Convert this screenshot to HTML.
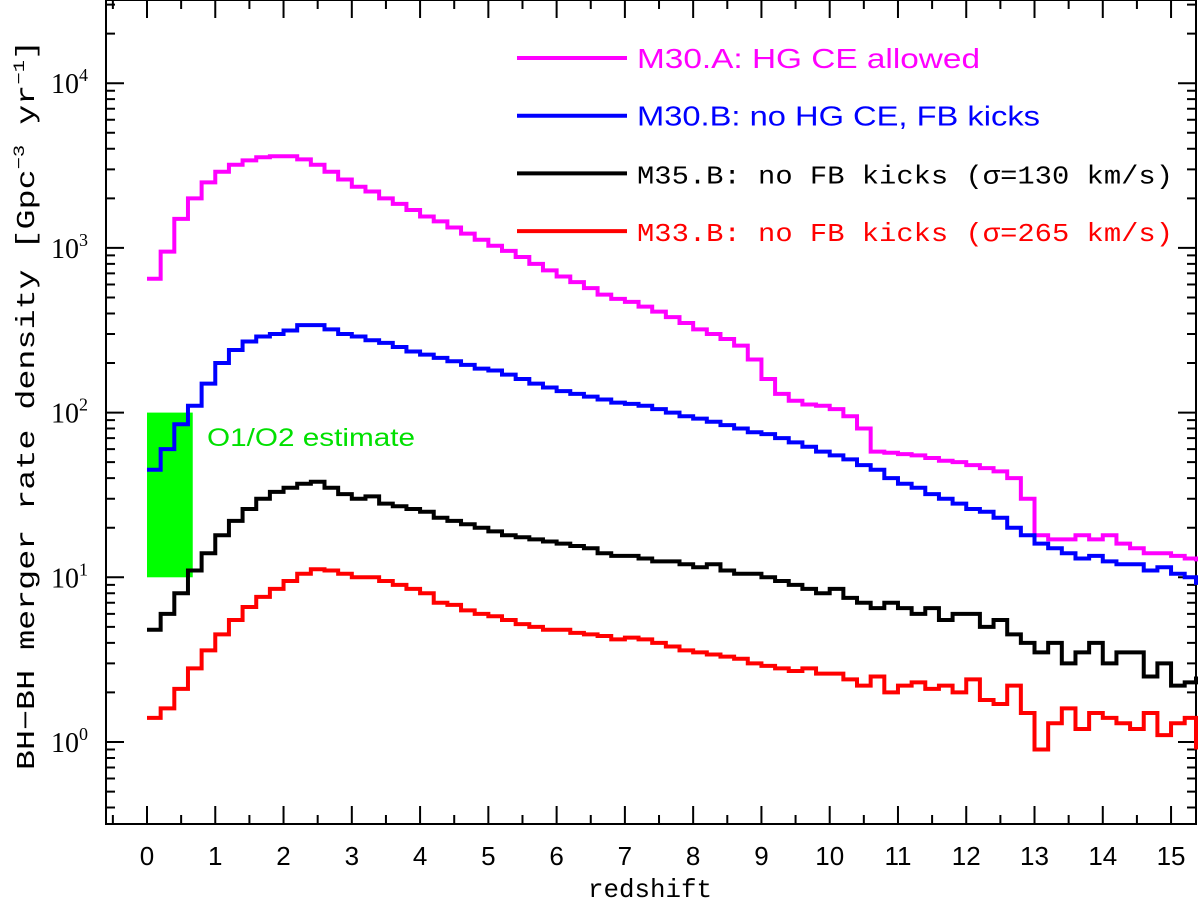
<!DOCTYPE html>
<html><head><meta charset="utf-8"><style>
body{margin:0;background:#fff}
svg{display:block}
.sans{font-family:"Liberation Sans",sans-serif}
.serif{font-family:"Liberation Serif",serif}
.mono{font-family:"Liberation Mono",monospace}
</style></head><body>
<svg id="chart" width="1200" height="906" xmlns="http://www.w3.org/2000/svg">
<g id="axes"></g>
<rect id="o1o2" fill="#00ff00"/>
<text id="o1o2lbl" class="sans" font-size="25" fill="#00e000" x="207" y="446" textLength="208" lengthAdjust="spacingAndGlyphs">O1/O2 estimate</text>
<g id="series"></g>
<g id="legend"></g>
<text class="mono" font-size="26" x="588" y="897" textLength="124" lengthAdjust="spacingAndGlyphs">redshift</text>
<text class="mono" font-size="26" transform="translate(34,770) rotate(-90)" textLength="730" lengthAdjust="spacingAndGlyphs">BH−BH merger rate density [Gpc<tspan font-size="16" dy="-10">−3</tspan><tspan dy="10"> yr</tspan><tspan font-size="16" dy="-10">−1</tspan><tspan dy="10">]</tspan></text>
</svg>
<script>
const binWidth = 0.2;
const m30a = [650,950,1500,2000,2500,2900,3200,3400,3550,3600,3600,3450,3200,2900,2600,2350,
2200,2000,1850,1700,1550,1450,1330,1220,1120,1030,
960,880,800,730,670,620,570,520,490,470,
440,410,380,350,320,300,280,255,210,160,
130,118,112,110,105,95,80,58,57,56,
55,53,51,50,48,46,44,40,30,18,
17,17,18,17,18,16,15,14,14,13.5,13,12.5];
const m30b = [45,60,85,110,150,200,240,270,290,300,315,340,340,320,300,290,
275,265,250,235,225,215,205,195,185,180,
170,160,150,142,135,130,125,120,115,113,
110,105,100,95,92,88,84,80,76,74,
70,66,62,58,55,52,48,45,40,37,
35,32,30,28,26,25,23,20,18,16,
15,14,13,13.5,12.5,12,12,11,11.5,10.5,10,9];
const m35b = [4.8,6,8,11,14,18,22,26,30,33,35,37,38,35,32,30,
31,28,27,26,25,23,22,21,20,19,
18,17.5,17,16.5,16,15.5,15,14,13.5,13.5,
13,12.5,12.5,12,11.5,12,11,10.5,10.5,10,
9.5,9,8.5,8,8.5,7.5,7,6.5,7,6.5,
6,6.5,5.5,6,6,5,5.5,4.5,4,3.5,
4,3,3.5,4,3,3.5,3.5,2.5,3,2.2,2.3,2.5];
const m33b = [1.4,1.6,2.1,2.8,3.6,4.5,5.5,6.6,7.6,8.5,9.5,10.5,11.2,11,10.5,10,
10,9.5,9,8.5,8,7,6.8,6.3,6,5.8,
5.5,5.2,5,4.8,4.8,4.6,4.5,4.4,4.2,4.3,
4.2,4,3.8,3.6,3.5,3.4,3.3,3.2,3.0,2.9,
2.8,2.7,2.8,2.6,2.6,2.4,2.2,2.5,2.0,2.2,
2.3,2.1,2.2,2.0,2.4,1.8,1.7,2.2,1.5,0.9,
1.3,1.6,1.2,1.5,1.4,1.3,1.2,1.5,1.1,1.3,1.4,0.9];
const seriesNames = ["m30a","m30b","m35b","m33b"];
const seriesColors = ["#ff00ff","#0000ff","#000000","#ff0000"];
const seriesLabels = ["M30.A: HG CE allowed","M30.B: no HG CE, FB kicks","M35.B: no FB kicks (σ=130 km/s)","M33.B: no FB kicks (σ=265 km/s)"];
const labelLengths = [343,403,536,536];
const xTicks = [0,1,2,3,4,5,6,7,8,9,10,11,12,13,14,15];
const yDecades = [0,1,2,3,4];
const band = {z0:0, z1:0.67, lo:10, hi:100};

const L=106,R=1196,T=0,B=824;
const X=z=>147+z*68.27;
const Y=v=>742-164.7*Math.log10(v);
const NS="http://www.w3.org/2000/svg";
function mk(tag,attrs,parent){const e=document.createElementNS(NS,tag);for(const k in attrs)e.setAttribute(k,attrs[k]);parent.appendChild(e);return e;}
const ax=document.getElementById('axes');
const frame=mk('rect',{x:L,y:T,width:R-L,height:B-T,fill:'none',stroke:'#000','stroke-width':2},ax);


let d='';
for(let z=-0.5;z<=15.5;z+=0.5){const x=X(z);const len=(Math.abs(z-Math.round(z))<1e-6)?18:9;d+=`M${x},${B}v${-len}M${x},${T}v${len}`;}
for(let dec=-1;dec<=4;dec++){for(let m=1;m<10;m++){const v=m*Math.pow(10,dec);const y=Y(v);if(y<T||y>B)continue;const len=m==1?18:9;d+=`M${L},${y}h${len}M${R},${y}h${-len}`;}}
const tk=mk('path',{d:d,stroke:'#000','stroke-width':2,fill:'none'},ax);


xTicks.forEach(z=>{const t=mk('text',{x:X(z),y:865,'text-anchor':'middle','font-size':26,class:'sans'},ax);t.textContent=z;

});
yDecades.forEach(p=>{const t=mk('text',{x:88,y:Y(Math.pow(10,p))+10,'text-anchor':'end','font-size':28,class:'serif'},ax);t.textContent='10';const s=mk('tspan',{'font-size':18,dy:-12},t);s.textContent=p;

});
const bd=document.getElementById('o1o2');
bd.setAttribute('x',X(band.z0));bd.setAttribute('width',X(band.z1)-X(band.z0));
bd.setAttribute('y',Y(band.hi));bd.setAttribute('height',Y(band.lo)-Y(band.hi));
const sg=document.getElementById('series');
[m30a,m30b,m35b,m33b].forEach((arr,si)=>{
  let p='';
  arr.forEach((v,i)=>{const x0=X(i*binWidth),x1=X((i+1)*binWidth),y=Y(v);p+=(i==0?`M${x0},${y}`:`V${y}`)+`H${Math.min(x1,R)}`;});
  const pe=mk('path',{d:p,fill:'none',stroke:seriesColors[si],'stroke-width':4,'stroke-linejoin':'miter'},sg);
  
  
});
const lg=document.getElementById('legend');
seriesLabels.forEach((lab,i)=>{
  const y=58+i*57.7;
  const ln=mk('line',{x1:517,x2:627,y1:y,y2:y,stroke:seriesColors[i],'stroke-width':4},lg);
  
  
  const t=mk('text',{x:637,y:y+10,fill:seriesColors[i],'font-size':i<2?28:26,class:i<2?'sans':'mono',textLength:labelLengths[i],lengthAdjust:'spacingAndGlyphs'},lg);
  t.textContent=lab;
  
  
});
</script>
</body></html>
